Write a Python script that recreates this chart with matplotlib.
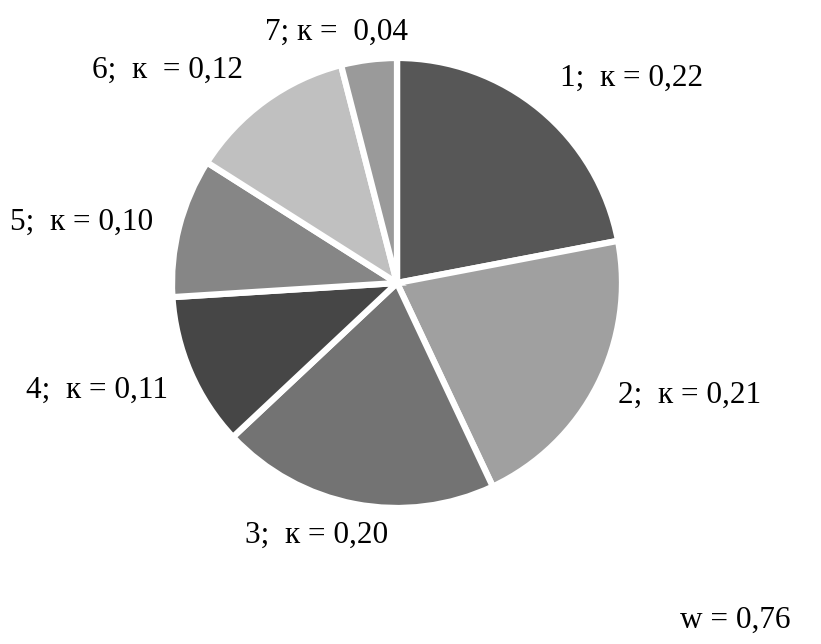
import matplotlib
matplotlib.use("Agg")
import matplotlib.pyplot as plt

# ------------------- data -------------------
groups = [1, 2, 3, 4, 5, 6, 7]
k_values = [0.22, 0.21, 0.20, 0.11, 0.10, 0.12, 0.04]
colors = ['#575757', '#a0a0a0', '#737373', '#464646', '#868686', '#c0c0c0', '#9a9a9a']
w_value = 0.76

# label templates (spacing differs in the original) and anchors in image pixels
label_fmt = ["{g};  к = {v}", "{g};  к = {v}", "{g};  к = {v}", "{g};  к = {v}",
             "{g};  к = {v}", "{g};  к  = {v}", "{g}; к =  {v}"]
label_pos = [(560, 78), (618, 395), (245, 535), (26, 390), (10, 222), (92, 70), (265, 32)]

W, H = 821, 644
plt.rcParams['font.family'] = ['Liberation Serif', 'DejaVu Serif']

fig = plt.figure(figsize=(W / 100, H / 100), dpi=100)
ax = fig.add_axes([0, 0, 1, 1])

explode = [0.075, 0, 0, 0, 0, 0, 0]
ax.pie(k_values, colors=colors, startangle=90, counterclock=False,
       center=(397, H - 283), radius=225, explode=explode, frame=True,
       wedgeprops=dict(edgecolor='white', linewidth=4.5))
ax.set_xlim(0, W)
ax.set_ylim(0, H)
ax.axis('off')

def fmt(v):
    return f"{v:.2f}".replace('.', ',')

for g, v, t, (px, py) in zip(groups, k_values, label_fmt, label_pos):
    ax.text(px, H - py, t.format(g=g, v=fmt(v)), ha='left', va='center', fontsize=22.5)

ax.text(680, H - 620, f"w = {fmt(w_value)}", ha='left', va='center', fontsize=22.5)

fig.savefig("out.png", dpi=100)
